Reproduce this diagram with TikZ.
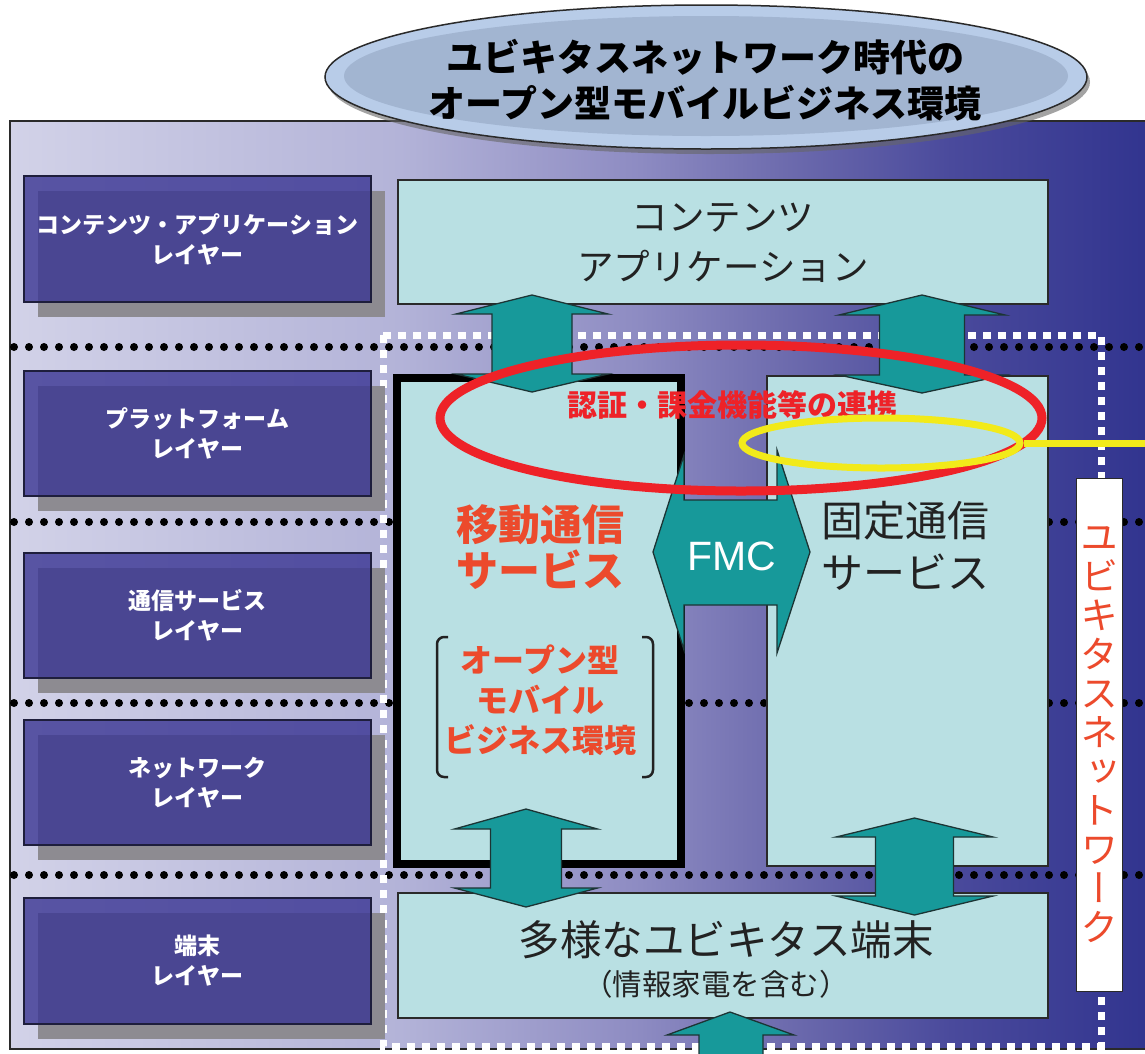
\documentclass[tikz,border=0pt]{standalone}
\usepackage{fontspec}
\usetikzlibrary{shapes.geometric}
\newfontfamily\jp{Noto Sans CJK JP}
\newfontfamily\jpv[RawFeature=+vert]{Noto Sans CJK JP}
\newfontfamily\lsans{Liberation Sans}
\definecolor{bgA}{HTML}{D2D2E8}
\definecolor{bgB}{HTML}{B3B3D8}
\definecolor{bgC}{HTML}{8D8BC2}
\definecolor{bgD}{HTML}{6E6CAE}
\definecolor{bgE}{HTML}{4A4A9C}
\definecolor{bgF}{HTML}{30338E}
\definecolor{teal1}{HTML}{17999A}
\definecolor{arrowline}{HTML}{1C3434}
\definecolor{cyanfill}{HTML}{B9E0E3}
\definecolor{boxline}{HTML}{2A2A2A}
\definecolor{navy}{HTML}{3A3593}
\definecolor{navyline}{HTML}{1E1E3C}
\definecolor{shadowgray}{HTML}{8D8B91}
\definecolor{ringred}{HTML}{EE2228}
\definecolor{txtred}{HTML}{EC4A2C}
\definecolor{ringyellow}{HTML}{F2EA1A}
\definecolor{ellOuter}{HTML}{B8CCE8}
\definecolor{ellInner}{HTML}{A2B5D1}
\definecolor{darktext}{HTML}{222222}
\newcommand\tealVarrow[7]{% cx, ytip1, ybase1, ybase2, ytip2, half head, half shaft
  \draw[tealarrow] (#1,#2) -- ({#1+#6},#3) -- ({#1+#7},#3) -- ({#1+#7},#4) -- ({#1+#6},#4) -- (#1,#5)
    -- ({#1-#6},#4) -- ({#1-#7},#4) -- ({#1-#7},#3) -- ({#1-#6},#3) -- cycle;}
\newcommand\layerBox[4]{% name, ytop, ybottom, text
  \fill[shadowgray] (38,{#2+15}) rectangle (385,{#3+15});
  \node[layerbox, minimum height={#3-#2}] (#1) at (197.5,{(#2+#3)/2}) {#4};}
\begin{document}
\begin{tikzpicture}[x=1pt,y=-1pt,
  dotline/.style={line width=8pt, dash pattern=on 0pt off 15pt, line cap=round, black},
  whitedash/.style={white, line width=7pt, dash pattern=on 8pt off 7pt},
  lightbox/.style={draw=boxline, line width=1.5pt, fill=cyanfill, rectangle, inner sep=0pt},
  tealarrow/.style={fill=teal1, draw=arrowline, line width=1.3pt, line join=miter},
  layerbox/.style={rectangle, draw=navyline, line width=1.2pt, fill=navy, fill opacity=0.8,
    text opacity=1, text=white, minimum width=347pt, inner sep=0pt, align=center,
    font=\jp\bfseries\fontsize{23}{30}\selectfont},
]
\useasboundingbox (0,0) rectangle (1145,1053);
\clip (0,0) rectangle (1145,1053);
\fill[white] (0,0) rectangle (1145,1053);
% background gradient
\shade[left color=bgA, right color=bgB] (10,121) rectangle (401,1049);
\shade[left color=bgB, right color=bgC] (400,121) rectangle (641,1049);
\shade[left color=bgC, right color=bgD] (640,121) rectangle (781,1049);
\shade[left color=bgD, right color=bgE] (780,121) rectangle (951,1049);
\shade[left color=bgE, right color=bgF] (950,121) rectangle (1160,1049);
\draw[boxline, line width=1.5pt] (10,121) rectangle (1170,1049);
% dotted layer separators
\foreach \yy in {347,522,703,875} \draw[dotline] (14,\yy) -- (1150,\yy);
% white dashed frame
\draw[whitedash] (383,335) rectangle (1101,1046);
% layer boxes
\layerBox{L1}{176}{302}{コンテンツ・アプリケーション\\レイヤー}
\layerBox{L2}{371}{496}{プラットフォーム\\レイヤー}
\layerBox{L3}{553}{678}{通信サービス\\レイヤー}
\layerBox{L4}{720}{845}{ネットワーク\\レイヤー}
\layerBox{L5}{898}{1024}{端末\\レイヤー}
% main boxes
\node[lightbox, minimum width=650pt, minimum height=124pt] (app) at (723,242) {};
\node[lightbox, draw=black, line width=8pt, minimum width=284pt, minimum height=486pt] (mob) at (539,621) {};
\node[lightbox, minimum width=281pt, minimum height=490pt] (fix) at (907.5,621) {};
\node[lightbox, minimum width=650pt, minimum height=125pt] (term) at (723,955.5) {};
% vertical arrows
\tealVarrow{532}{295}{314}{374}{392}{76}{40}
\tealVarrow{922}{295}{315}{375}{393}{83}{42.5}
\tealVarrow{526}{809}{829}{888}{907}{71.5}{35.5}
\tealVarrow{914.5}{818}{837}{896}{915}{78.5}{39}
\draw[tealarrow] (730,1012) -- (794,1035) -- (763,1035) -- (763,1070) -- (699,1070) -- (699,1035) -- (667,1035) -- cycle;
% FMC arrow
\draw[tealarrow] (653,552) -- (684,455) -- (684,500) -- (777,500) -- (777,450) -- (810,552)
  -- (777,653) -- (777,605) -- (684,605) -- (684,650) -- cycle;
\node[text=white, font=\lsans\fontsize{41}{41}\selectfont] (fmc) at (732,556) {FMC};
% texts in boxes
\node[text=darktext, align=center, font=\jp\fontsize{36.5}{50}\selectfont] (apptxt) at (723,243) {コンテンツ\\アプリケーション};
\node[text=txtred, align=center, font=\jp\bfseries\fontsize{42}{46}\selectfont] (mobtxt) at (540,547) {移動通信\\サービス};
\node[text=darktext, align=center, font=\jp\fontsize{42}{52}\selectfont] (fixtxt) at (905,546) {固定通信\\サービス};
\node[text=txtred, align=center, font=\jp\bfseries\fontsize{32}{40}\selectfont] (opentxt) at (540,700) {オープン型\\モバイル\\ビジネス環境};
\draw[darktext, line width=2.5pt, rounded corners=7pt] (448,637) -- (437,637) -- (437,777) -- (448,777);
\draw[darktext, line width=2.5pt, rounded corners=7pt] (642,637) -- (653,637) -- (653,777) -- (642,777);
\node[text=darktext, font=\jp\fontsize{41.5}{41.5}\selectfont] (termtxt) at (726,940) {多様なユビキタス端末};
\node[text=darktext, font=\jp\fontsize{29.5}{29.5}\selectfont] (termsub) at (716,984) {（情報家電を含む）};
% red ring and text
\node[ellipse, draw=ringred, line width=9pt, minimum width=602pt, minimum height=146pt, inner sep=0pt] (redring) at (741,418) {};
\node[text=ringred, font=\jp\bfseries\fontsize{30}{30}\selectfont] (authtxt) at (732,405) {認証・課金機能等の連携};
% yellow ring and line
\node[ellipse, draw=ringyellow, line width=7pt, minimum width=278pt, minimum height=50pt, inner sep=0pt] (yelring) at (881,443) {};
\draw[ringyellow, line width=7pt] (yelring.east) -- (1150,443);
% ubiquitous network label
\node[rectangle, fill=white, draw=boxline, line width=0.6pt, minimum width=46pt, minimum height=513pt, inner sep=0pt] (ubibox) at (1099,734.5) {};
\node[text=txtred, align=center, font=\jpv\fontsize{38}{39}\selectfont] (ubitxt) at (1099,735) {ユ\\ビ\\キ\\タ\\ス\\ネ\\ッ\\ト\\ワ\\ー\\ク};
% title ellipse
\fill[black!60, opacity=0.6] (709,82) ellipse [x radius=381, y radius=72];
\node[ellipse, fill=ellOuter, draw=boxline, line width=1.5pt, minimum width=762pt, minimum height=144pt, inner sep=0pt] (title) at (706,77) {};
\fill[ellInner] (706,76) ellipse [x radius=362, y radius=60];
\node[text=black, align=center, font=\jp\bfseries\fontsize{37}{46}\selectfont] (titletxt) at (705,80) {ユビキタスネットワーク時代の\\オープン型モバイルビジネス環境};
\end{tikzpicture}
\end{document}
